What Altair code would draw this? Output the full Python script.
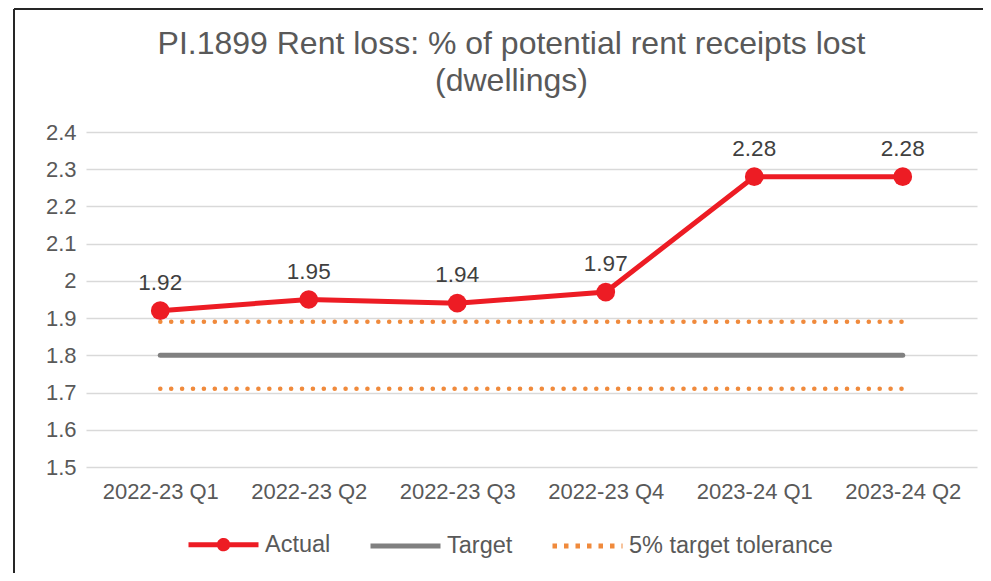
import altair as alt
import pandas as pd

categories = ["2022-23 Q1", "2022-23 Q2", "2022-23 Q3", "2022-23 Q4", "2023-24 Q1", "2023-24 Q2"]
actual = [1.92, 1.95, 1.94, 1.97, 2.28, 2.28]
target = [1.8, 1.8, 1.8, 1.8, 1.8, 1.8]
tol_upper = [1.89, 1.89, 1.89, 1.89, 1.89, 1.89]
tol_lower = [1.71, 1.71, 1.71, 1.71, 1.71, 1.71]
y_ticks = [1.5, 1.6, 1.7, 1.8, 1.9, 2.0, 2.1, 2.2, 2.3, 2.4]
series_order = ["Actual", "Target", "5% target tolerance"]

RED = "#ED1C24"
GRAY = "#808080"
ORANGE = "#F08A3C"
FONT = "Liberation Sans"

rows = []
for c, a, t, u, l in zip(categories, actual, target, tol_upper, tol_lower):
    rows.append({"cat": c, "value": a, "series": "Actual", "line": "actual"})
    rows.append({"cat": c, "value": t, "series": "Target", "line": "target"})
    rows.append({"cat": c, "value": u, "series": "5% target tolerance", "line": "upper"})
    rows.append({"cat": c, "value": l, "series": "5% target tolerance", "line": "lower"})
df = pd.DataFrame(rows)

x_enc = alt.X("cat:N", sort=categories, scale=alt.Scale(type="point", padding=0.5),
              axis=alt.Axis(title=None, labelAngle=0, ticks=False, domain=False, grid=False,
                            labelPadding=14, labelFontSize=22, labelColor="#595959", labelFont=FONT))
y_enc = alt.Y("value:Q", scale=alt.Scale(domain=[1.5, 2.4], nice=False, zero=False),
              axis=alt.Axis(title=None, values=y_ticks, format=".1~f", ticks=False, domain=False,
                            grid=True, gridColor="#D9D9D9", gridWidth=1.5, labelPadding=10,
                            labelFontSize=22, labelColor="#595959", labelFont=FONT))

base = alt.Chart(df).encode(x=x_enc, y=y_enc)

target_line = base.transform_filter("datum.line == 'target'").mark_line(
    color=GRAY, strokeWidth=5, strokeCap="round")
tol_lines = base.transform_filter("datum.series == '5% target tolerance'").mark_line(
    color=ORANGE, strokeWidth=4.5, strokeDash=[0.1, 10.8], strokeCap="round").encode(detail="line:N")
actual_b = base.transform_filter("datum.line == 'actual'")
actual_line = actual_b.mark_line(color=RED, strokeWidth=5)
actual_pts = actual_b.mark_circle(color=RED, size=350, opacity=1)
actual_txt = actual_b.mark_text(dy=-28, fontSize=22.5, color="#404040", font=FONT).encode(
    text=alt.Text("value:Q", format=".2f"))

path_actual = ("M-1,0H1M-0.12,0a0.12,0.12 0 1,0 0.24,0a0.12,0.12 0 1,0 -0.24,0")
path_line = "M-1,0H1"
leg = alt.Legend(title=None, orient="none", legendX=100, legendY=375, direction="horizontal",
                 labelFontSize=23.5, labelColor="#595959", labelFont=FONT, symbolSize=4900,
                 symbolStrokeWidth=5, labelOffset=4, columnPadding=29, symbolOpacity=1,
                 labelLimit=400)
legend_layer = alt.Chart(df).transform_filter("datum.series == 'none'").mark_point(
    filled=True, opacity=1).encode(
    shape=alt.Shape("series:N", scale=alt.Scale(domain=series_order,
                                                range=[path_actual, path_line, path_line]), legend=leg),
    fill=alt.Fill("series:N", scale=alt.Scale(domain=series_order,
                                              range=[RED, "transparent", "transparent"]), legend=leg),
    stroke=alt.Stroke("series:N", scale=alt.Scale(domain=series_order,
                                                  range=[RED, GRAY, ORANGE]), legend=leg),
    strokeDash=alt.StrokeDash("series:N", scale=alt.Scale(domain=series_order,
                                                          range=[[1, 0], [1, 0], [4.5, 7]]), legend=leg),
)

border_left = alt.Chart(df).mark_rule(color="#262626", strokeWidth=2).encode(
    x=alt.value(-72), y=alt.value(-123), y2=alt.value(600))
border_top = alt.Chart(df).mark_rule(color="#262626", strokeWidth=2).encode(
    x=alt.value(-72), x2=alt.value(1000), y=alt.value(-123))

chart = alt.layer(target_line, tol_lines, actual_line, actual_pts, actual_txt, legend_layer,
                  border_left, border_top).properties(
    width=891, height=335,
    title=alt.Title(["PI.1899 Rent loss: % of potential rent receipts lost", "(dwellings)"],
                    anchor="middle", dx=-20, fontSize=32, font=FONT, color="#595959",
                    fontWeight="normal", lineHeight=37, offset=-90),
    autosize=alt.AutoSizeParams(type="none"),
    padding={"left": 78, "top": 124, "right": 6, "bottom": 106},
).configure(background="white",
            view=alt.ViewConfig(stroke="transparent", strokeOpacity=0, strokeWidth=0))

chart.save("out.html", embed_options={"renderer": "svg", "actions": False})
